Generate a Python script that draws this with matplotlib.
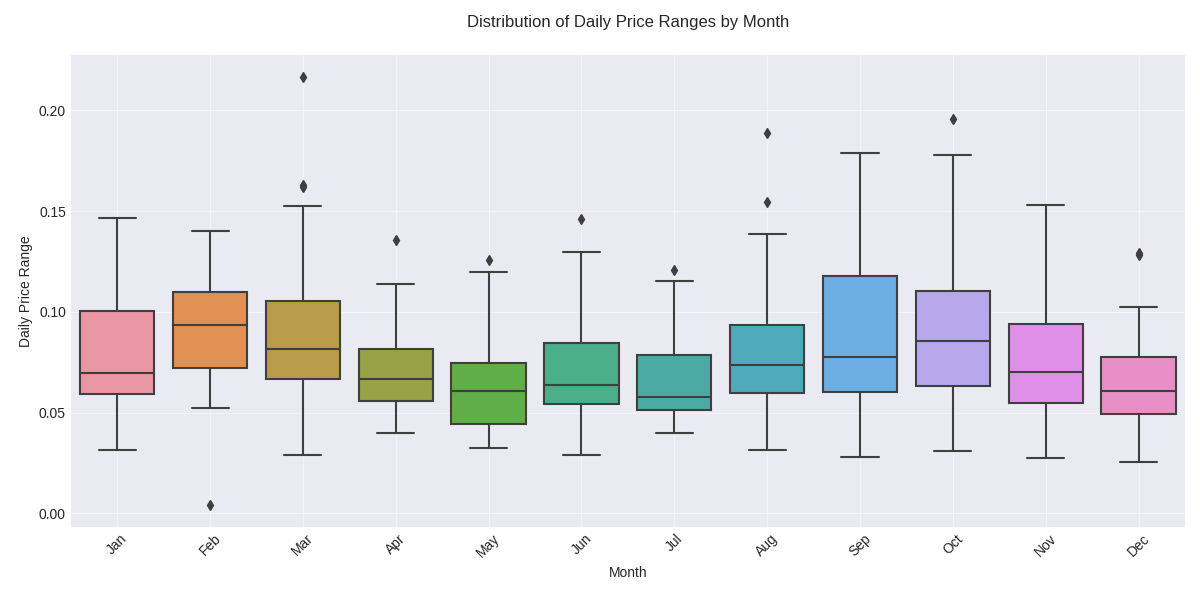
import matplotlib
matplotlib.use("Agg")
import matplotlib.pyplot as plt
import seaborn as sns

# Valores
meses = ['Jan', 'Feb', 'Mar', 'Apr', 'May', 'Jun', 'Jul', 'Aug', 'Sep', 'Oct', 'Nov', 'Dec']
bigote_inf = [0.0317, 0.0525, 0.0290, 0.0400, 0.0323, 0.0292, 0.0397, 0.0313, 0.0279, 0.0308, 0.0274, 0.0254]
q1 = [0.0594, 0.0723, 0.0668, 0.0559, 0.0445, 0.0541, 0.0515, 0.0597, 0.0602, 0.0630, 0.0546, 0.0495]
mediana = [0.0698, 0.0935, 0.0817, 0.0668, 0.0610, 0.0635, 0.0578, 0.0739, 0.0774, 0.0856, 0.0704, 0.0610]
q3 = [0.1005, 0.1100, 0.1054, 0.0817, 0.0749, 0.0848, 0.0784, 0.0935, 0.1178, 0.1105, 0.0940, 0.0778]
bigote_sup = [0.1468, 0.1400, 0.1525, 0.1138, 0.1199, 0.1298, 0.1155, 0.1387, 0.1788, 0.1777, 0.1529, 0.1024]
atipicos = [
    [],
    [0.0040],
    [0.1620, 0.1630, 0.2168],
    [0.1356],
    [0.1260],
    [0.1459],
    [0.1206],
    [0.1546, 0.1889],
    [],
    [0.1958],
    [],
    [0.1282, 0.1292],
]

plt.style.use('seaborn-v0_8-darkgrid')

colores = [sns.desaturate(c, 0.75) for c in sns.husl_palette(len(meses), l=.7)]
gris = '#3f3f3f'

stats = []
for i, m in enumerate(meses):
    stats.append(dict(label=m, whislo=bigote_inf[i], q1=q1[i], med=mediana[i],
                      q3=q3[i], whishi=bigote_sup[i], fliers=atipicos[i]))

fig, ax = plt.subplots(figsize=(12, 6), dpi=100)
bp = ax.bxp(stats, positions=range(len(meses)), widths=0.8, patch_artist=True,
            boxprops=dict(edgecolor=gris, linewidth=1.5),
            medianprops=dict(color=gris, linewidth=1.5),
            whiskerprops=dict(color=gris, linewidth=1.5),
            capprops=dict(color=gris, linewidth=1.5),
            flierprops=dict(marker='d', markerfacecolor=gris, markeredgecolor=gris,
                            markersize=5))
for caja, c in zip(bp['boxes'], colores):
    caja.set_facecolor(c)
for cap in bp['caps']:
    x = cap.get_xdata()
    centro = (x[0] + x[1]) / 2
    cap.set_xdata([centro - 0.2, centro + 0.2])

ax.set_xlim(-0.5, len(meses) - 0.5)
ax.set_xticks(range(len(meses)))
ax.set_xticklabels(meses, rotation=45)
ax.set_xlabel('Month')
ax.set_ylabel('Daily Price Range')
ax.set_title('Distribution of Daily Price Ranges by Month', pad=20)
ax.grid(True, alpha=0.5)

plt.subplots_adjust(left=0.059, right=0.9875, top=0.908, bottom=0.122)
plt.savefig('out.png')
